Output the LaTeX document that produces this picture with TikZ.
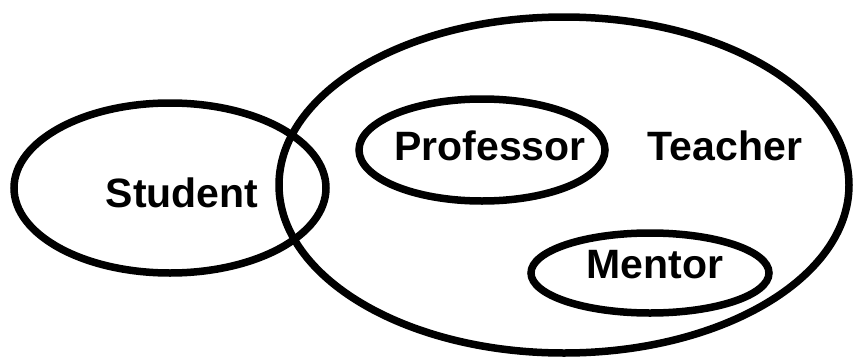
\documentclass[tikz,border=0pt]{standalone}
\usepackage{fontspec}
\setmainfont{Liberation Sans}
\begin{document}
\begin{tikzpicture}[x=1pt,y=-1pt,line width=7.5pt]
    \useasboundingbox (0,0) rectangle (855,362);
    \tikzset{lbl/.style={anchor=base,inner sep=0pt,font=\fontsize{41}{49}\selectfont\bfseries}}
    \draw (170,188) ellipse [x radius=156, y radius=85];
    \draw (564,185) ellipse [x radius=285, y radius=168];
    \draw (482,150) ellipse [x radius=123, y radius=51];
    \draw (650,273) ellipse [x radius=119, y radius=40];
    \node[lbl] (student) at (182,207) {Student};
    \node[lbl] (professor) at (490,160) {Professor};
    \node[lbl] (teacher) at (725,160) {Teacher};
    \node[lbl] (mentor) at (655,278) {Mentor};
\end{tikzpicture}
\end{document}
